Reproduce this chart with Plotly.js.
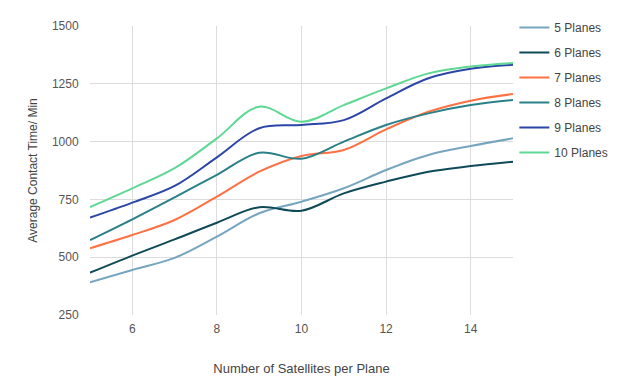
<!DOCTYPE html>
<html>
<head>
<meta charset="utf-8">
<script src="https://cdn.plot.ly/plotly-3.0.1.min.js"></script>
<style>html,body{margin:0;padding:0;background:#fff}#chart{width:635px;height:388px}</style>
</head>
<body>
<div id="chart"></div>
<script>
const satellites = [5, 6, 7, 8, 9, 10, 11, 12, 13, 14, 15];
const planes5  = [391, 445, 497, 589, 690, 740, 798, 877, 942, 981, 1014];
const planes6  = [433, 507, 577, 649, 716, 701, 776, 827, 870, 894, 913];
const planes7  = [539, 596, 661, 762, 870, 938, 964, 1053, 1129, 1177, 1206];
const planes8  = [574, 664, 759, 856, 952, 926, 1000, 1072, 1122, 1158, 1180];
const planes9  = [671, 736, 808, 932, 1058, 1072, 1093, 1187, 1274, 1315, 1332];
const planes10 = [717, 798, 885, 1014, 1151, 1086, 1158, 1230, 1295, 1325, 1340];
const seriesNames = ["5 Planes", "6 Planes", "7 Planes", "8 Planes", "9 Planes", "10 Planes"];
const seriesValues = [planes5, planes6, planes7, planes8, planes9, planes10];
const colors = ["#76a5c0", "#0e4a57", "#ff7043", "#2a8088", "#2b46a6", "#5fd893"];

const traces = seriesNames.map((n, i) => ({
  x: satellites, y: seriesValues[i], name: n, type: "scatter", mode: "lines",
  line: {color: colors[i], width: 2, shape: "spline", smoothing: 1},
  legendgroup: "g" + i
}));

const layout = {
  width: 635, height: 388,
  margin: {l: 90, r: 122, t: 26, b: 73, autoexpand: false},
  paper_bgcolor: "#fff", plot_bgcolor: "#fff",
  font: {family: "Liberation Sans, Arial, sans-serif", size: 12, color: "#444"},
  showlegend: true,
  legend: {xref: "container", x: 0.81, y: 1.045, xanchor: "left", yanchor: "top", font: {size: 12, color: "#444"}, itemwidth: 30, tracegroupgap: 6},
  xaxis: {
    range: [5, 15], tickvals: [6, 8, 10, 12, 14], showgrid: true, gridcolor: "#dcdcdc",
    zeroline: false, showline: false, ticks: "outside", ticklen: 3, tickcolor: "#fff", tickfont: {size: 12, color: "#555"},
    title: {text: "Number of Satellites per Plane", font: {size: 13, color: "#444"}, standoff: 28}
  },
  yaxis: {
    range: [250, 1500], tickvals: [250, 500, 750, 1000, 1250, 1500], showgrid: true, gridcolor: "#dcdcdc",
    zeroline: false, showline: false, ticks: "outside", ticklen: 8, tickcolor: "#fff", tickfont: {size: 12, color: "#555"},
    title: {text: "Average Contact Time/ Min", font: {size: 12, color: "#444"}, standoff: 11}
  }
};
Plotly.newPlot("chart", traces, layout, {displayModeBar: false, staticPlot: true});
</script>
</body>
</html>
